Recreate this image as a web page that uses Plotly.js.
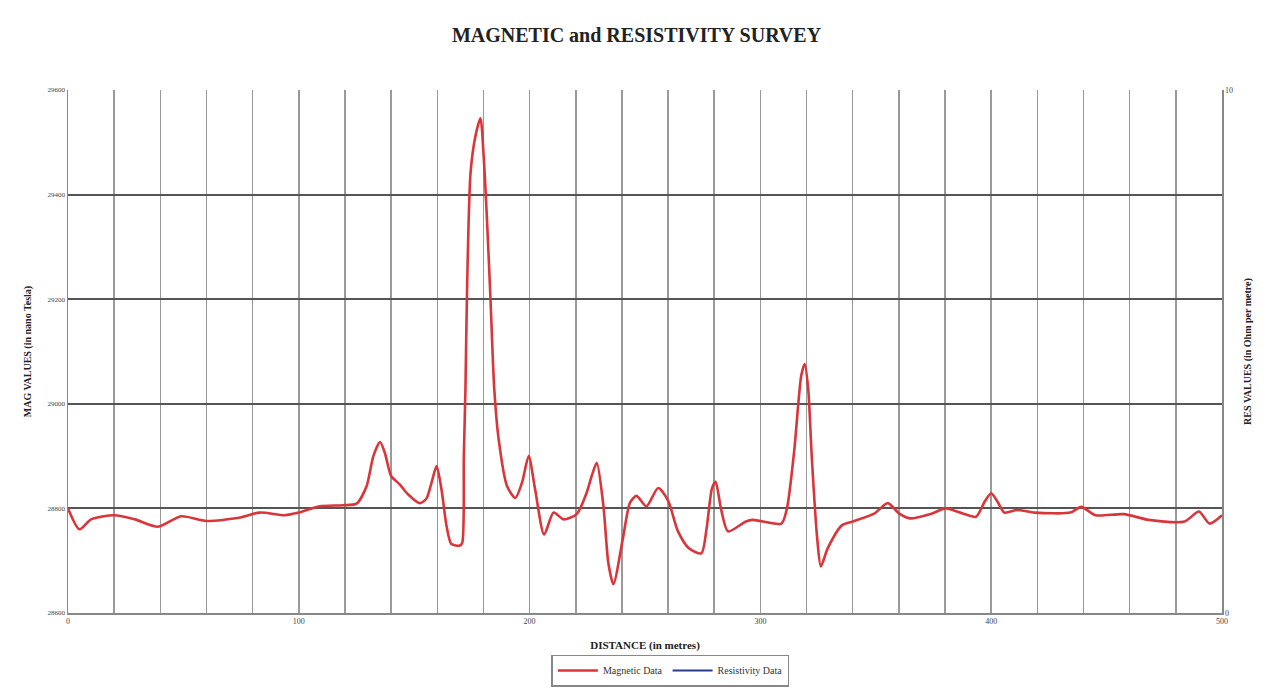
<!DOCTYPE html>
<html>
<head>
<meta charset="utf-8">
<script src="https://cdn.plot.ly/plotly-3.0.1.min.js"></script>
<style>html,body{margin:0;padding:0;background:#fff;}#chart{width:1273px;height:698px;}</style>
</head>
<body>
<div id="chart"></div>
<script>
// Distance along the survey line (metres)
const distance = [0,5,10,20,29,39,49,60,74,83,94,100,109,119,125,129.4,132.3,135.2,137.3,140,143.7,147.3,152.3,155.2,157.5,159.7,161.8,164,166.1,169.7,170.8,171.5,172.2,172.9,174.4,176.5,178.7,180.1,181.6,183,184.7,186.6,190.2,193.8,196.7,199.6,202.4,206.3,210.4,214.7,220.4,224.7,226.9,229.1,232,234.1,236.3,240.6,243.5,246.3,250.6,255.7,260,264.3,269,274.4,276.7,279,280.6,282.9,286,293.7,296.8,309.1,311.5,314.6,317.7,319.2,320.7,322.3,324.6,326.2,329.2,335.4,340,349.3,355.2,360.2,364.8,374.1,380.2,388,393.4,397.2,400,402.7,405.7,411.2,418.9,434.3,439,445.2,457.5,468.3,483.8,490,494.6,500];
// Magnetic readings (nano Tesla)
const magneticValues = [28800,28760,28779,28787,28779,28765,28785,28776,28782,28792,28787,28792,28804,28806,28809,28843,28900,28927,28906,28862,28846,28827,28810,28818,28849,28881,28837,28767,28732,28729,28734,28900,29027,29218,29441,29511,29546,29473,29346,29206,29027,28932,28843,28820,28849,28900,28836,28750,28792,28779,28789,28830,28862,28887,28804,28696,28655,28747,28811,28824,28804,28839,28815,28756,28724,28714,28762,28838,28851,28800,28756,28775,28778,28771,28800,28908,29054,29076,29029,28895,28743,28689,28724,28768,28775,28790,28810,28790,28781,28790,28800,28790,28784,28813,28829,28813,28792,28797,28792,28792,28803,28787,28789,28778,28775,28794,28771,28787];
// Resistivity readings (Ohm per metre) - none plotted in the reference
const resistivityDistance = [null];
const resistivityValues = [null];

const xTickVals = [];
const xTickText = [];
for (let v = 0; v <= 500; v += 20) { xTickVals.push(v); xTickText.push(v % 100 === 0 ? String(v) : ''); }
const magTicks = [28600,28800,29000,29200,29400,29600];
const magTickText = ['28600','28800','29000','29200','29400','29600'];
const resTicks = [0,10];

const serif = 'Liberation Serif, Times New Roman, serif';

const traces = [
  {x: distance, y: magneticValues, type: 'scatter', mode: 'lines', name: 'Magnetic Data',
   line: {color: '#d8363a', width: 2.6, shape: 'spline', smoothing: 0.7}},
  {x: resistivityDistance, y: resistivityValues, type: 'scatter', mode: 'lines', name: 'Resistivity Data',
   yaxis: 'y2', line: {color: '#2b3a8c', width: 2}}
];

const layout = {
  width: 1273, height: 698,
  margin: {l: 68, r: 51, t: 90, b: 81},
  paper_bgcolor: '#ffffff', plot_bgcolor: '#ffffff',
  font: {family: serif, color: '#222'},
  title: {text: '<b>MAGNETIC and RESISTIVITY SURVEY</b>', font: {family: serif, size: 20, color: '#222'},
          x: 0.5, xanchor: 'center', y: 0.95, yanchor: 'middle', yref: 'container'},
  showlegend: true,
  legend: {orientation: 'h', x: 0.522, xanchor: 'center', y: -0.11, yanchor: 'middle',
           bordercolor: '#888', borderwidth: 1.5, font: {family: serif, size: 10, color: '#333'},
           itemwidth: 40},
  xaxis: {range: [0, 500], tickmode: 'array', tickvals: xTickVals, ticktext: xTickText,
          showgrid: true, gridcolor: '#9a9a9a', gridwidth: 1.5, zeroline: false,
          showline: true, linecolor: '#888', linewidth: 1.5, mirror: false,
          tickfont: {family: serif, size: 8, color: '#444'}, ticks: '',
          title: {text: '<b>DISTANCE (in metres)</b>', font: {family: serif, size: 11, color: '#222'}, standoff: 16}},
  yaxis: {range: [28600, 29600], tickmode: 'array', tickvals: magTicks, ticktext: magTickText,
          showgrid: true, gridcolor: '#555555', gridwidth: 2, zeroline: false,
          showline: true, linecolor: '#888', linewidth: 1.5,
          tickfont: {family: serif, size: 7, color: '#444'}, ticks: '',
          title: {text: '<b>MAG VALUES (in nano Tesla)</b>', font: {family: serif, size: 10, color: '#222'}, standoff: 14}},
  yaxis2: {range: [0, 10], overlaying: 'y', side: 'right', tickmode: 'array', tickvals: resTicks,
           showgrid: false, zeroline: false, showline: true, linecolor: '#888', linewidth: 1.5,
           tickfont: {family: serif, size: 8, color: '#444'}, ticks: '',
           title: {text: '<b>RES VALUES (in Ohm per metre)</b>', font: {family: serif, size: 10, color: '#222'}, standoff: 12}}
};

Plotly.newPlot('chart', traces, layout, {displayModeBar: false, staticPlot: true});
</script>
</body>
</html>
